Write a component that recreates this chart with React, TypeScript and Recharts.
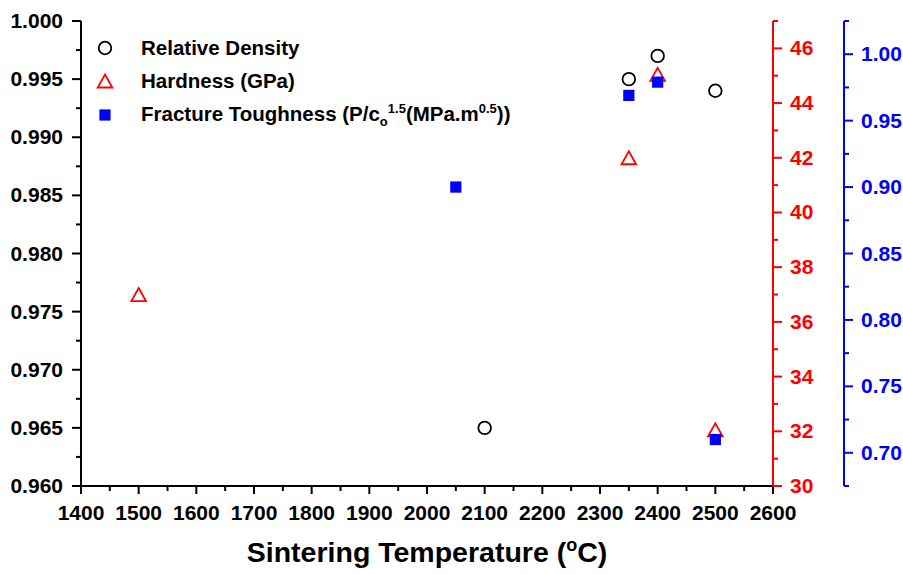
import { ScatterChart, Scatter, XAxis, YAxis, Legend } from 'recharts';

// Relative density (left axis)
const densityTemps = [2100, 2350, 2400, 2500];
const densityValues = [0.965, 0.995, 0.997, 0.994];
// Hardness, GPa (red right axis)
const hardnessTemps = [1500, 2350, 2400, 2500];
const hardnessValues = [37.0, 42.0, 45.05, 32.05];
// Fracture toughness (blue right axis)
const toughnessTemps = [2050, 2350, 2400, 2500];
const toughnessValues = [0.9, 0.969, 0.979, 0.71];

const xTicks = [1400, 1450, 1500, 1550, 1600, 1650, 1700, 1750, 1800, 1850, 1900, 1950, 2000, 2050, 2100, 2150, 2200, 2250, 2300, 2350, 2400, 2450, 2500, 2550, 2600];
const xLabels = [1400, 1500, 1600, 1700, 1800, 1900, 2000, 2100, 2200, 2300, 2400, 2500, 2600];
const densityTicks = [0.96, 0.9625, 0.965, 0.9675, 0.97, 0.9725, 0.975, 0.9775, 0.98, 0.9825, 0.985, 0.9875, 0.99, 0.9925, 0.995, 0.9975, 1.0];
const densityLabels = [0.96, 0.965, 0.97, 0.975, 0.98, 0.985, 0.99, 0.995, 1.0];
const hardnessTicks = [30, 31, 32, 33, 34, 35, 36, 37, 38, 39, 40, 41, 42, 43, 44, 45, 46, 47];
const hardnessLabels = [30, 32, 34, 36, 38, 40, 42, 44, 46];
const toughnessTicks = [0.675, 0.7, 0.725, 0.75, 0.775, 0.8, 0.825, 0.85, 0.875, 0.9, 0.925, 0.95, 0.975, 1.0, 1.025];
const toughnessLabels = [0.7, 0.75, 0.8, 0.85, 0.9, 0.95, 1.0];

const densityData = densityTemps.map((x, i) => ({ x, y: densityValues[i] }));
const hardnessData = hardnessTemps.map((x, i) => ({ x, y: hardnessValues[i] }));
const toughnessData = toughnessTemps.map((x, i) => ({ x, y: toughnessValues[i] }));

const FONT = '"Liberation Sans", Arial, sans-serif';
const RED = '#ff0000';
const BLUE = '#0000ff';

const LeftTick = ({ x, y, payload }: any) => {
  const major = densityLabels.includes(payload.value);
  return (
    <g>
      <line x1={x} x2={x - (major ? 9 : 5)} y1={y} y2={y} stroke="#000" strokeWidth={2} />
      {major && (
        <text x={x - 18} y={y + 7} textAnchor="end" fontFamily={FONT} fontWeight="bold" fontSize={21} fill="#000">
          {payload.value.toFixed(3)}
        </text>
      )}
    </g>
  );
};

const RightTick = ({ x, y, payload, labels, color, digits }: any) => {
  const major = labels.includes(payload.value);
  return (
    <g>
      <line x1={x} x2={x + (major ? 9 : 5)} y1={y} y2={y} stroke={color} strokeWidth={2} />
      {major && (
        <text x={x + 17} y={y + 7} textAnchor="start" fontFamily={FONT} fontWeight="bold" fontSize={21} fill={color}>
          {payload.value.toFixed(digits)}
        </text>
      )}
    </g>
  );
};

const BottomTick = ({ x, y, payload }: any) => {
  const major = xLabels.includes(payload.value);
  return (
    <g>
      <line x1={x} x2={x} y1={y} y2={y + (major ? 8 : 5)} stroke="#000" strokeWidth={2} />
      {major && (
        <text x={x} y={y + 34} textAnchor="middle" fontFamily={FONT} fontWeight="bold" fontSize={21} fill="#000">
          {payload.value}
        </text>
      )}
    </g>
  );
};

const XTitle = ({ viewBox }: any) => {
  const { x, y, width } = viewBox;
  return (
    <text x={x + width / 2} y={y + 76} textAnchor="middle" fontFamily={FONT} fontWeight="bold" fontSize={28.5} fill="#000">
      Sintering Temperature (
      <tspan fontSize={18} dy={-11}>o</tspan>
      <tspan dy={11}>C)</tspan>
    </text>
  );
};

const PanelTag = ({ viewBox }: any) => {
  const { x, y, width } = viewBox;
  return (
    <text x={x + width - 7} y={y + 27} textAnchor="end" fontFamily={FONT} fontWeight="bold" fontSize={22} fill="#000">
      (c)
    </text>
  );
};

const circleShape = (p: any) => (
  <circle cx={p.cx} cy={p.cy} r={6.3} fill="none" stroke="#000" strokeWidth={1.8} />
);
const triangleShape = (p: any) => (
  <polygon
    points={`${p.cx},${p.cy - 6.5} ${p.cx + 7.3},${p.cy + 6.5} ${p.cx - 7.3},${p.cy + 6.5}`}
    fill="none"
    stroke={RED}
    strokeWidth={1.8}
  />
);
const squareShape = (p: any) => (
  <rect x={p.cx - 5.6} y={p.cy - 5.6} width={11.2} height={11.2} fill={BLUE} />
);

const LegendBox = () => {
  const row = { display: 'flex', alignItems: 'center', height: 33.5 } as const;
  const text = { marginLeft: 26, whiteSpace: 'nowrap' } as const;
  return (
    <div style={{ fontFamily: FONT, fontWeight: 'bold', fontSize: 20.5, color: '#000' }}>
      <div style={row}>
        <svg width={20} height={20}>
          <circle cx={10} cy={10} r={6.3} fill="none" stroke="#000" strokeWidth={1.8} />
        </svg>
        <span style={text}>Relative Density</span>
      </div>
      <div style={row}>
        <svg width={20} height={20}>
          <polygon points="10,3.5 17.3,16.5 2.7,16.5" fill="none" stroke={RED} strokeWidth={1.8} />
        </svg>
        <span style={text}>Hardness (GPa)</span>
      </div>
      <div style={row}>
        <svg width={20} height={20}>
          <rect x={4.4} y={4.4} width={11.2} height={11.2} fill={BLUE} />
        </svg>
        <span style={text}>
          Fracture Toughness (P/c<sub style={{ fontSize: 13 }}>o</sub>
          <sup style={{ fontSize: 13 }}>1.5</sup>(MPa.m<sup style={{ fontSize: 13 }}>0.5</sup>))
        </span>
      </div>
    </div>
  );
};

export default function App() {
  return (
    <div style={{ width: 903, height: 574, background: '#fff' }}>
      <style>{'body{margin:0}'}</style>
      <ScatterChart width={903} height={574} margin={{ top: 21, right: 0, bottom: 0, left: 0 }}>
        <XAxis
          xAxisId="bottom"
          type="number"
          dataKey="x"
          domain={[1400, 2600]}
          ticks={xTicks}
          interval={0}
          height={88}
          tickSize={0}
          tickMargin={0}
          tickLine={false}
          axisLine={{ stroke: '#000', strokeWidth: 2 }}
          tick={<BottomTick />}
          label={<XTitle />}
        />
        <XAxis
          xAxisId="top"
          orientation="top"
          type="number"
          dataKey="x"
          domain={[1400, 2600]}
          height={0}
          tick={false}
          tickLine={false}
          axisLine={{ stroke: '#000', strokeWidth: 2 }}
          label={<PanelTag />}
        />
        <YAxis
          yAxisId="density"
          type="number"
          dataKey="y"
          domain={[0.96, 1.0]}
          ticks={densityTicks}
          interval={0}
          width={81}
          tickSize={0}
          tickMargin={0}
          tickLine={false}
          axisLine={{ stroke: '#000', strokeWidth: 2 }}
          tick={<LeftTick />}
        />
        <YAxis
          yAxisId="hardness"
          orientation="right"
          type="number"
          dataKey="y"
          domain={[30, 47]}
          ticks={hardnessTicks}
          interval={0}
          width={71}
          tickSize={0}
          tickMargin={0}
          tickLine={false}
          axisLine={{ stroke: RED, strokeWidth: 2 }}
          tick={<RightTick labels={hardnessLabels} color={RED} digits={0} />}
        />
        <YAxis
          yAxisId="toughness"
          orientation="right"
          type="number"
          dataKey="y"
          domain={[0.675, 1.025]}
          ticks={toughnessTicks}
          interval={0}
          width={59}
          tickSize={0}
          tickMargin={0}
          tickLine={false}
          axisLine={{ stroke: BLUE, strokeWidth: 2 }}
          tick={<RightTick labels={toughnessLabels} color={BLUE} digits={2} />}
        />
        <Legend
          layout="vertical"
          align="center"
          verticalAlign="middle"
          content={<LegendBox />}
          wrapperStyle={{ left: 95, top: 31, width: 500, height: 110 }}
        />
        <Scatter
          name="Relative Density"
          data={densityData}
          xAxisId="bottom"
          yAxisId="density"
          shape={circleShape}
          isAnimationActive={false}
        />
        <Scatter
          name="Hardness (GPa)"
          data={hardnessData}
          xAxisId="bottom"
          yAxisId="hardness"
          shape={triangleShape}
          isAnimationActive={false}
        />
        <Scatter
          name="Fracture Toughness"
          data={toughnessData}
          xAxisId="bottom"
          yAxisId="toughness"
          shape={squareShape}
          isAnimationActive={false}
        />
      </ScatterChart>
    </div>
  );
}
